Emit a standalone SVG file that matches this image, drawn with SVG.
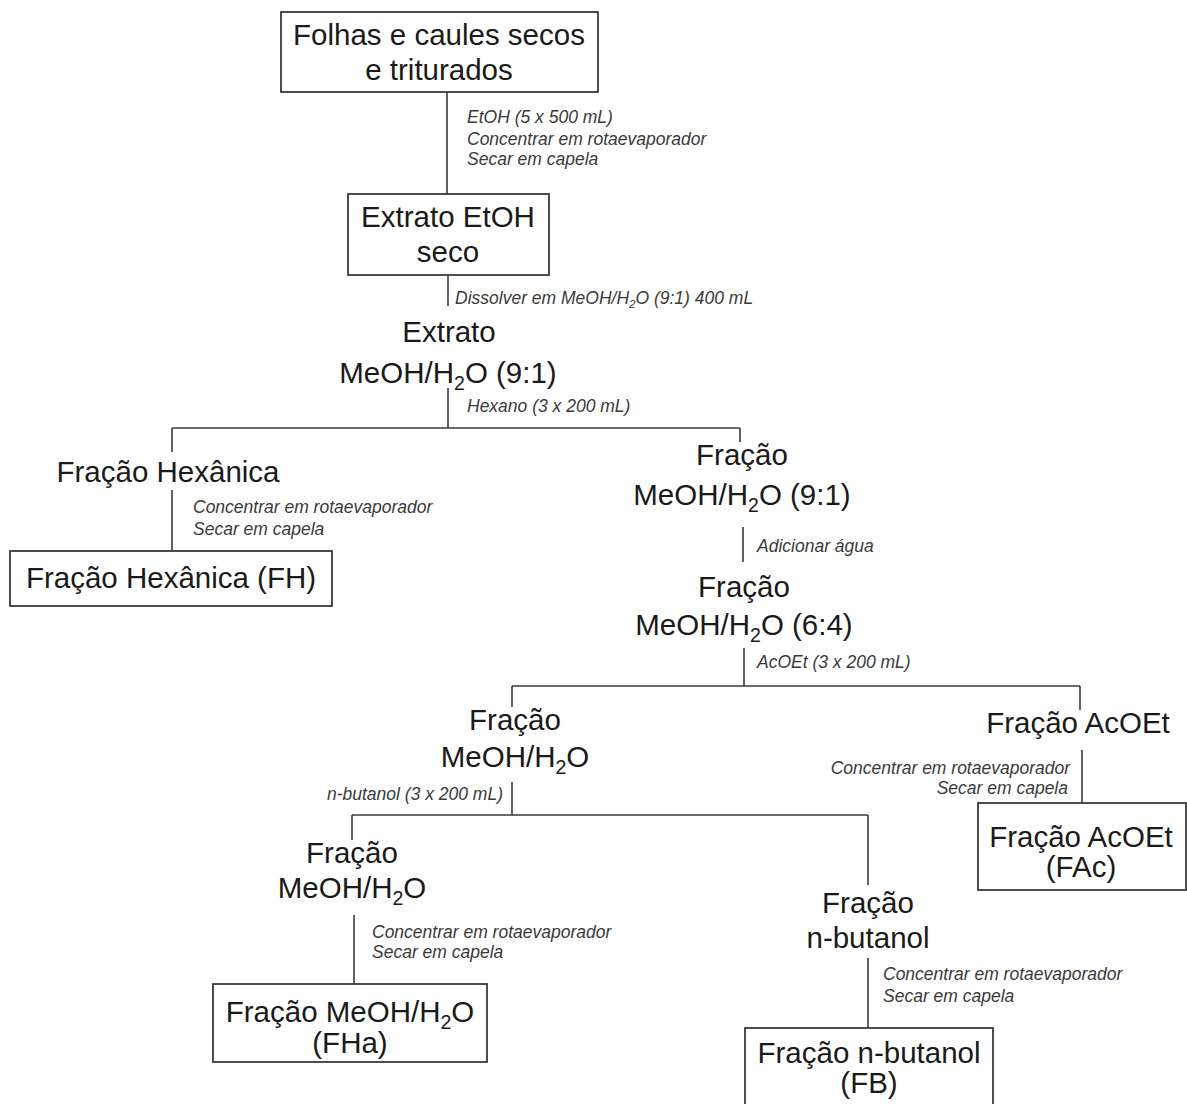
<svg xmlns="http://www.w3.org/2000/svg" width="1187" height="1104" viewBox="0 0 1187 1104">
<style>
.bg{fill:#ffffff}
.box{fill:none;stroke:#3a3a3a;stroke-width:1.8}
.ln{fill:none;stroke:#3a3a3a;stroke-width:1.6}
.t{font-family:"Liberation Sans",Arial,sans-serif;font-size:29.5px;fill:#1a1a1a;text-anchor:middle}
.sub{font-size:19.5px}
.lb{font-family:"Liberation Sans",Arial,sans-serif;font-size:17.5px;font-style:italic;fill:#3a3a3a}
.lbsub{font-size:11.5px}
.end{text-anchor:end}
</style>
<rect class="bg" x="0" y="0" width="1187" height="1104"/>
<g id="connectors">
<line class="ln" x1="447" y1="92" x2="447" y2="194"/>
<line class="ln" x1="448" y1="275" x2="448" y2="306"/>
<line class="ln" x1="448" y1="388" x2="448" y2="428"/>
<line class="ln" x1="172" y1="428" x2="740" y2="428"/>
<line class="ln" x1="172" y1="428" x2="172" y2="452"/>
<line class="ln" x1="172" y1="490" x2="172" y2="551"/>
<line class="ln" x1="740" y1="428" x2="740" y2="442"/>
<line class="ln" x1="743" y1="527" x2="743" y2="562"/>
<line class="ln" x1="744" y1="648" x2="744" y2="686"/>
<line class="ln" x1="512" y1="686" x2="1080" y2="686"/>
<line class="ln" x1="512" y1="686" x2="512" y2="707"/>
<line class="ln" x1="1080" y1="686" x2="1080" y2="710"/>
<line class="ln" x1="1082" y1="750" x2="1082" y2="803"/>
<line class="ln" x1="512" y1="782" x2="512" y2="815"/>
<line class="ln" x1="352" y1="815" x2="868" y2="815"/>
<line class="ln" x1="352" y1="815" x2="352" y2="840"/>
<line class="ln" x1="868" y1="815" x2="868" y2="885"/>
<line class="ln" x1="354" y1="915" x2="354" y2="984"/>
<line class="ln" x1="868" y1="958" x2="868" y2="1028"/>
</g>
<g id="labels">
<text class="lb" x="467" y="123">EtOH (5 x 500 mL)</text>
<text class="lb" x="467" y="145">Concentrar em rotaevaporador</text>
<text class="lb" x="467" y="165">Secar em capela</text>
<text class="lb" x="455" y="304">Dissolver em MeOH/H<tspan class="lbsub" dy="4">2</tspan><tspan dy="-4">O (9:1)  400 mL</tspan></text>
<text class="lb" x="467" y="412">Hexano (3 x 200 mL)</text>
<text class="lb" x="193" y="513">Concentrar em rotaevaporador</text>
<text class="lb" x="193" y="535">Secar em capela</text>
<text class="lb" x="757" y="552">Adicionar água</text>
<text class="lb" x="757" y="668">AcOEt (3 x 200 mL)</text>
<text class="lb end" x="1070" y="774">Concentrar em rotaevaporador</text>
<text class="lb end" x="1068" y="794">Secar em capela</text>
<text class="lb end" x="503" y="800">n-butanol (3 x 200 mL)</text>
<text class="lb" x="372" y="938">Concentrar em rotaevaporador</text>
<text class="lb" x="372" y="958">Secar em capela</text>
<text class="lb" x="883" y="980">Concentrar em rotaevaporador</text>
<text class="lb" x="883" y="1002">Secar em capela</text>
</g>
<g id="n-folhas">
<rect class="box" x="281" y="12" width="317" height="80"/>
<text class="t" x="439" y="45">Folhas e caules secos</text>
<text class="t" x="439" y="80">e triturados</text>
</g>
<g id="n-extrato-etoh">
<rect class="box" x="348" y="194" width="201" height="81"/>
<text class="t" x="448" y="227">Extrato EtOH</text>
<text class="t" x="448" y="262">seco</text>
</g>
<g id="n-extrato-meoh">
<text class="t" x="449" y="342">Extrato</text>
<text class="t" x="448" y="383">MeOH/H<tspan class="sub" dy="7">2</tspan><tspan dy="-7">O (9:1)</tspan></text>
</g>
<g id="n-fracao-hexanica">
<text class="t" x="168" y="482">Fração Hexânica</text>
</g>
<g id="n-fh">
<rect class="box" x="10" y="551" width="322" height="55"/>
<text class="t" x="171" y="588">Fração Hexânica (FH)</text>
</g>
<g id="n-fracao-91">
<text class="t" x="742" y="465">Fração</text>
<text class="t" x="742" y="505">MeOH/H<tspan class="sub" dy="7">2</tspan><tspan dy="-7">O (9:1)</tspan></text>
</g>
<g id="n-fracao-64">
<text class="t" x="744" y="597">Fração</text>
<text class="t" x="744" y="635">MeOH/H<tspan class="sub" dy="7">2</tspan><tspan dy="-7">O (6:4)</tspan></text>
</g>
<g id="n-fracao-meoh-1">
<text class="t" x="515" y="730">Fração</text>
<text class="t" x="515" y="767">MeOH/H<tspan class="sub" dy="7">2</tspan><tspan dy="-7">O</tspan></text>
</g>
<g id="n-fracao-acoet">
<text class="t" x="1078" y="733">Fração AcOEt</text>
</g>
<g id="n-fac">
<rect class="box" x="978" y="803" width="208" height="87"/>
<text class="t" x="1081" y="847">Fração AcOEt</text>
<text class="t" x="1081" y="877">(FAc)</text>
</g>
<g id="n-fracao-meoh-2">
<text class="t" x="352" y="863">Fração</text>
<text class="t" x="352" y="898">MeOH/H<tspan class="sub" dy="7">2</tspan><tspan dy="-7">O</tspan></text>
</g>
<g id="n-fha">
<rect class="box" x="213" y="984" width="274" height="78"/>
<text class="t" x="350" y="1022">Fração MeOH/H<tspan class="sub" dy="7">2</tspan><tspan dy="-7">O</tspan></text>
<text class="t" x="350" y="1053">(FHa)</text>
</g>
<g id="n-fracao-butanol">
<text class="t" x="868" y="913">Fração</text>
<text class="t" x="868" y="948">n-butanol</text>
</g>
<g id="n-fb">
<rect class="box" x="745" y="1028" width="248" height="90"/>
<text class="t" x="869" y="1063">Fração n-butanol</text>
<text class="t" x="869" y="1093">(FB)</text>
</g>
</svg>
